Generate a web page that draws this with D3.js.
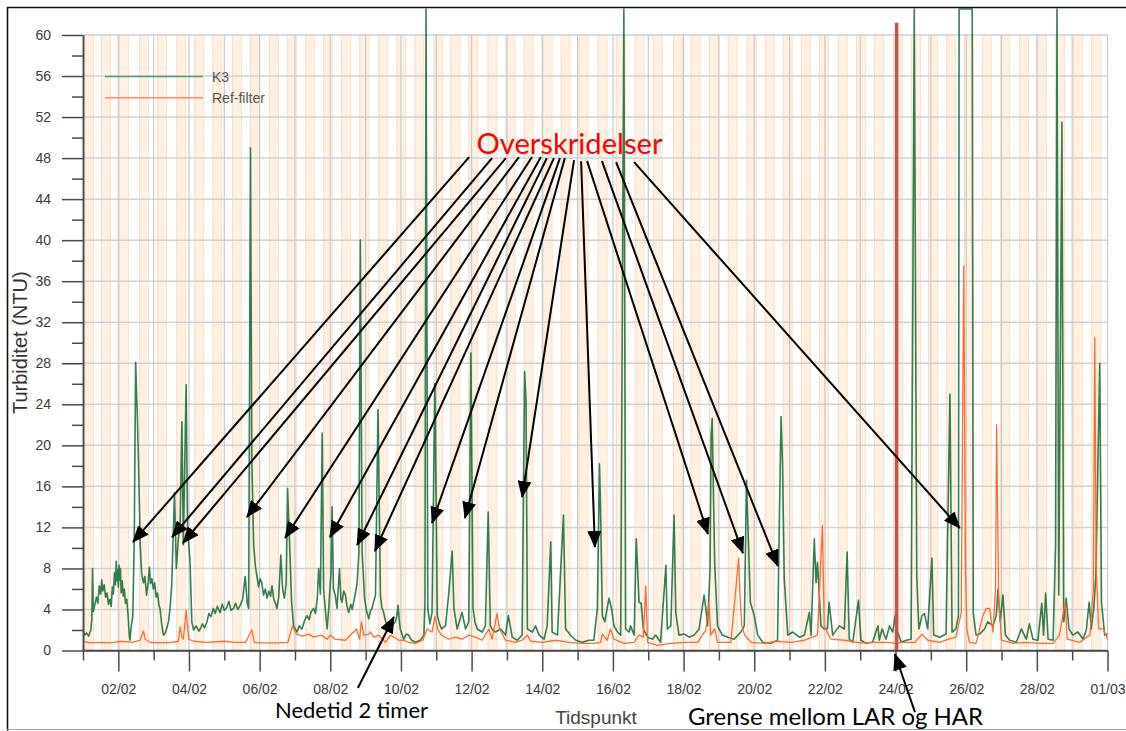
<!DOCTYPE html>
<html>
<head>
<meta charset="utf-8">
<script src="https://cdn.jsdelivr.net/npm/d3@7"></script>
<style>
  html, body { margin: 0; padding: 0; background: #fff; }
  svg { display: block; }
</style>
</head>
<body>
<svg id="chart" width="1126" height="731"></svg>
<script>
// Turbiditet K3 vs. referansefilter, februar (dager regnet fra 01/02 00:00)

// K3: [dag, NTU]
const k3 = [
  [0.00,1.9],[0.04,1.5],[0.10,1.7],[0.16,1.4],[0.22,2.0],[0.25,3.0],[0.27,8.0],[0.29,3.8],[0.33,4.4],[0.38,5.2],
  [0.42,4.6],[0.46,6.3],[0.50,5.5],[0.53,6.9],[0.56,5.8],[0.60,6.4],[0.64,5.2],[0.68,5.6],[0.72,4.5],[0.76,5.0],
  [0.80,4.3],[0.83,6.2],[0.86,5.5],[0.89,7.6],[0.92,6.4],[0.94,8.7],[0.96,6.8],[0.98,7.9],[1.00,6.2],[1.02,8.3],
  [1.04,6.9],[1.06,8.0],[1.08,5.6],[1.11,6.8],[1.14,5.3],[1.17,6.0],[1.20,4.6],[1.24,5.0],[1.28,3.2],[1.31,1.5],
  [1.33,1.0],[1.36,2.2],[1.41,3.4],[1.45,10.6],[1.49,28.1],[1.54,22.6],[1.57,18.4],[1.62,10.3],[1.66,7.5],[1.71,6.6],
  [1.75,7.2],[1.80,5.4],[1.84,6.5],[1.88,8.1],[1.91,6.5],[1.95,7.0],[1.99,6.0],[2.03,6.6],[2.07,5.2],[2.11,5.6],
  [2.15,4.4],[2.18,4.1],[2.22,2.8],[2.26,1.8],[2.28,1.5],[2.33,1.7],[2.38,2.3],[2.42,2.8],[2.46,4.0],[2.51,6.3],
  [2.59,15.4],[2.64,8.0],[2.70,10.9],[2.75,12.5],[2.80,22.3],[2.84,10.3],[2.89,20.0],[2.92,25.9],[2.96,11.9],[3.03,8.6],
  [3.08,2.8],[3.13,2.0],[3.20,2.4],[3.28,1.9],[3.32,2.1],[3.38,2.6],[3.44,2.2],[3.51,2.8],[3.56,3.6],[3.62,3.3],
  [3.69,4.1],[3.74,3.6],[3.80,4.3],[3.88,3.7],[3.94,4.5],[4.00,3.9],[4.07,4.2],[4.13,4.8],[4.19,3.9],[4.26,4.1],
  [4.32,4.6],[4.38,4.0],[4.45,4.4],[4.52,5.0],[4.59,7.2],[4.65,4.6],[4.69,4.1],[4.74,49.0],[4.78,18.4],[4.83,10.3],
  [4.88,8.2],[4.92,7.3],[4.97,6.2],[5.01,7.0],[5.06,6.6],[5.11,5.4],[5.16,6.0],[5.21,5.1],[5.26,5.8],[5.31,5.3],
  [5.35,6.3],[5.40,5.0],[5.45,4.6],[5.49,4.1],[5.54,5.2],[5.60,9.3],[5.65,6.0],[5.70,5.1],[5.75,6.5],[5.79,15.8],
  [5.85,10.3],[5.90,5.0],[5.96,2.4],[6.06,1.8],[6.12,2.4],[6.20,2.1],[6.27,2.9],[6.34,3.4],[6.40,3.0],[6.46,3.8],
  [6.53,4.1],[6.58,3.6],[6.63,5.0],[6.67,8.0],[6.72,5.5],[6.77,21.2],[6.81,6.0],[6.86,4.0],[6.91,2.1],[6.95,3.8],
  [6.98,5.4],[7.02,7.5],[7.05,14.0],[7.09,6.0],[7.14,5.4],[7.19,4.1],[7.26,8.0],[7.30,5.0],[7.33,4.7],[7.38,5.8],
  [7.43,5.4],[7.47,4.4],[7.52,3.7],[7.58,4.5],[7.62,4.0],[7.66,4.7],[7.71,5.6],[7.76,6.6],[7.81,9.6],[7.85,40.0],
  [7.90,9.6],[7.97,5.1],[8.03,3.8],[8.09,3.1],[8.14,3.9],[8.18,4.1],[8.23,4.8],[8.28,5.4],[8.35,23.5],[8.42,5.4],
  [8.46,4.2],[8.51,3.7],[8.56,2.9],[8.61,2.4],[8.66,2.7],[8.70,2.1],[8.77,2.5],[8.84,2.8],[8.88,3.3],[8.92,4.4],
  [8.95,3.0],[8.98,2.1],[9.08,1.1],[9.15,1.6],[9.22,1.5],[9.30,1.0],[9.41,0.8],[9.55,1.0],[9.65,1.5],[9.68,4.7],
  [9.71,80],[9.76,4.1],[9.82,2.6],[9.88,3.7],[9.96,26.0],[10.03,3.4],[10.09,2.6],[10.15,2.1],[10.26,2.4],[10.35,5.4],
  [10.45,9.7],[10.50,4.1],[10.59,2.1],[10.66,2.9],[10.73,3.7],[10.83,2.1],[10.92,2.8],[10.98,29.0],[11.04,4.1],[11.10,2.7],
  [11.16,2.1],[11.30,1.8],[11.39,2.4],[11.47,13.5],[11.53,2.4],[11.60,2.0],[11.68,1.8],[11.82,2.1],[11.96,1.5],[12.04,3.4],
  [12.15,1.3],[12.29,1.0],[12.43,1.5],[12.50,27.2],[12.54,24.4],[12.58,2.1],[12.72,1.8],[12.81,2.4],[12.91,1.5],[13.05,1.1],
  [13.14,2.4],[13.24,10.6],[13.28,1.8],[13.43,1.5],[13.60,13.2],[13.66,2.1],[13.80,1.5],[13.95,1.0],[14.13,0.8],[14.32,1.0],
  [14.46,1.0],[14.56,4.1],[14.62,18.2],[14.65,13.8],[14.70,3.4],[14.77,2.8],[14.89,5.1],[14.96,4.1],[15.03,2.4],[15.13,1.8],
  [15.22,1.5],[15.31,80],[15.36,2.1],[15.46,1.8],[15.50,2.4],[15.60,1.5],[15.66,10.9],[15.69,8.6],[15.74,4.7],[15.80,4.6],
  [15.86,2.1],[15.98,1.3],[16.12,1.1],[16.21,1.5],[16.35,0.8],[16.50,8.3],[16.54,2.1],[16.64,2.4],[16.73,13.2],[16.78,3.7],
  [16.87,1.5],[17.02,1.6],[17.16,1.3],[17.30,1.5],[17.44,2.1],[17.58,5.4],[17.63,4.1],[17.68,2.4],[17.75,8.0],[17.78,21.0],
  [17.81,22.6],[17.88,8.6],[17.96,2.4],[18.10,1.5],[18.25,1.3],[18.43,1.1],[18.62,1.8],[18.72,2.4],[18.78,16.6],[18.89,4.7],
  [19.00,3.4],[19.10,1.5],[19.24,0.8],[19.47,0.7],[19.66,1.0],[19.71,12.5],[19.76,22.8],[19.80,18.4],[19.85,7.0],[19.95,1.5],
  [20.09,1.8],[20.28,1.3],[20.42,1.5],[20.56,3.7],[20.61,1.5],[20.70,10.9],[20.75,6.6],[20.79,8.6],[20.89,2.4],[20.98,2.1],
  [21.07,2.1],[21.12,4.7],[21.22,1.5],[21.41,2.4],[21.55,2.1],[21.63,9.6],[21.69,1.1],[21.79,0.8],[21.95,4.9],[22.02,1.0],
  [22.17,0.7],[22.35,0.8],[22.50,2.4],[22.54,1.0],[22.62,2.1],[22.73,1.1],[22.83,2.4],[22.92,1.8],[22.99,3.4],[23.03,2.1],
  [23.16,0.8],[23.30,1.0],[23.44,1.1],[23.53,80],[23.60,7.3],[23.66,2.1],[23.75,3.4],[23.82,3.6],[23.91,2.1],[24.03,9.0],
  [24.08,1.5],[24.25,1.3],[24.43,1.6],[24.54,25.0],[24.60,1.8],[24.71,2.1],[24.78,3.4],[24.80,80],[25.17,80],[25.20,3.7],
  [25.28,1.5],[25.38,1.6],[25.52,2.1],[25.61,2.8],[25.76,2.4],[25.85,3.4],[25.90,6.0],[25.96,2.8],[26.04,5.4],[26.11,1.5],
  [26.23,1.0],[26.42,0.8],[26.56,2.1],[26.70,1.1],[26.79,2.6],[26.89,1.1],[27.03,1.0],[27.14,4.6],[27.19,1.5],[27.25,5.6],
  [27.32,1.1],[27.46,1.0],[27.53,10.3],[27.57,80],[27.62,5.4],[27.71,51.5],[27.76,2.8],[27.83,5.1],[27.91,2.1],[28.02,1.5],
  [28.16,1.8],[28.31,1.1],[28.40,2.0],[28.48,4.7],[28.54,2.1],[28.61,4.1],[28.67,7.2],[28.78,28.0],[28.83,4.7],[28.92,1.5],
  [29.00,1.6]
];

// Ref-filter: [dag, NTU]
const refFilter = [
  [0.00,0.9],[0.20,0.75],[0.50,0.8],[0.80,0.75],[1.10,0.9],[1.40,0.8],[1.62,1.0],[1.71,1.9],[1.76,1.1],[1.90,0.8],
  [2.20,0.75],[2.50,0.8],[2.70,0.9],[2.75,2.3],[2.80,1.3],[2.84,1.1],[2.92,3.9],[2.99,1.1],[3.13,0.9],[3.50,0.8],
  [4.00,0.9],[4.30,0.8],[4.60,0.8],[4.78,2.0],[4.85,0.8],[5.06,0.75],[5.50,0.75],[5.80,0.8],[5.93,2.4],[6.04,1.6],
  [6.20,1.4],[6.40,1.6],[6.53,1.3],[6.75,1.5],[6.91,1.1],[7.00,1.5],[7.14,1.1],[7.43,1.0],[7.66,1.8],[7.74,2.1],
  [7.83,1.1],[7.88,2.8],[7.95,1.5],[8.09,1.6],[8.14,1.8],[8.23,1.3],[8.37,1.5],[8.56,0.8],[8.70,1.5],[8.80,1.3],
  [8.94,1.0],[9.08,1.0],[9.22,0.8],[9.41,0.7],[9.62,1.0],[9.74,2.1],[9.88,1.8],[9.96,3.3],[10.05,2.0],[10.15,1.5],
  [10.35,1.1],[10.54,1.3],[10.73,1.1],[10.92,1.5],[11.11,1.3],[11.30,1.0],[11.49,2.1],[11.58,1.1],[11.72,3.6],[11.79,2.1],
  [11.96,1.0],[12.24,0.8],[12.43,1.0],[12.58,1.5],[12.67,0.9],[13.00,0.8],[13.38,1.0],[13.76,0.8],[14.13,0.7],[14.47,0.7],
  [14.65,0.8],[14.70,1.6],[14.84,1.0],[14.93,2.1],[15.03,1.1],[15.32,0.7],[15.60,0.8],[15.74,1.5],[15.86,1.3],[15.93,6.3],
  [15.98,0.8],[16.26,0.5],[16.64,0.7],[17.02,0.8],[17.40,0.8],[17.63,2.0],[17.72,4.7],[17.77,1.5],[17.88,2.1],[17.96,0.8],
  [18.34,0.8],[18.56,9.0],[18.60,5.1],[18.65,2.4],[18.73,1.5],[18.91,0.8],[19.28,0.7],[19.66,0.9],[20.04,0.8],[20.42,1.0],
  [20.79,1.5],[20.93,12.2],[20.98,2.4],[21.17,1.1],[21.55,1.0],[22.00,0.75],[22.40,0.8],[22.73,0.8],[23.03,0.7],[23.16,0.8],
  [23.55,0.8],[23.75,1.6],[23.91,1.0],[24.25,0.8],[24.50,1.1],[24.71,1.3],[24.86,3.7],[24.93,37.5],[24.98,8.0],[25.02,2.1],
  [25.09,0.8],[25.28,0.7],[25.47,3.4],[25.57,4.1],[25.66,4.1],[25.76,1.8],[25.83,6.0],[25.86,22.0],[25.92,5.0],[26.00,1.0],
  [26.32,0.7],[26.70,0.8],[27.08,0.7],[27.46,0.7],[27.64,1.5],[27.80,4.7],[27.86,1.1],[28.21,0.8],[28.50,1.5],[28.60,6.0],
  [28.64,30.5],[28.68,8.0],[28.75,2.1],[28.88,2.1],[29.00,1.1]
];

// Start of each shaded period (dag) and its length
const periodStarts = [
  0.03,0.51,1.02,1.59,2.10,2.64,3.15,3.66,4.22,4.73,5.27,5.78,6.29,6.80,7.31,7.82,8.36,8.87,9.38,9.92,
  10.40,10.91,11.45,11.96,12.47,13.01,13.52,14.03,14.57,15.08,15.62,16.13,16.70,17.20,17.72,18.25,18.79,19.30,19.81,20.32,
  20.83,21.37,21.88,22.39,22.93,23.44,23.92,24.43,24.94,25.45,25.96,26.50,27.01,27.52,28.03,28.54
];
const periodLength = 0.28;

// Boundary between LAR and HAR
const boundaryDay = 23.03;
const boundaryTop = 61.2;

// Axis labels
const xTickDays = [1,3,5,7,9,11,13,15,17,19,21,23,25,27,29];
const xTickLabels = ["02/02","04/02","06/02","08/02","10/02","12/02","14/02","16/02","18/02","20/02","22/02","24/02","26/02","28/02","01/03"];
const yTickValues = [0,4,8,12,16,20,24,28,32,36,40,44,48,52,56,60];

// Arrows: [start dag, start NTU, tip dag, tip NTU]
const exceedArrows = [
  [10.93,48.1, 1.415,10.58],
  [11.58,48.0, 2.52,11.06],
  [11.97,48.0, 2.83,10.48],
  [12.34,48.1, 4.64,13.01],
  [12.71,48.1, 5.72,10.97],
  [12.96,48.1, 6.99,11.06],
  [13.13,48.0, 7.76,10.28],
  [13.33,48.0, 8.26,9.70],
  [13.50,48.0, 9.88,12.43],
  [13.64,48.0, 10.81,12.92],
  [13.90,47.8, 12.43,14.96],
  [14.10,47.7, 14.49,10.09],
  [14.27,47.7, 17.69,11.36],
  [14.69,47.7, 18.68,9.50],
  [15.09,47.6, 19.67,8.24],
  [15.60,47.6, 24.82,11.94]
];
const downtimeArrow = [7.78,-3.66, 8.80,3.27];
const boundaryArrow = [23.55,-6.0, 22.98,-0.34];

const svg = d3.select("#chart");
const W = 1126, H = 731;

const x = d3.scaleLinear().domain([0, 29]).range([83, 1107.5]);
const y = d3.scaleLinear().domain([0, 60]).range([650.5, 35]);
const yCeil = y.invert(9); // traces are held at the top edge of the frame

svg.append("rect").attr("width", W).attr("height", H).attr("fill", "#fff");

// Shaded periods
const bands = svg.append("g");
bands.selectAll("rect").data(periodStarts).join("rect")
  .attr("x", d => x(d))
  .attr("y", y(60) - 1)
  .attr("width", x(periodLength) - x(0))
  .attr("height", y(0) - y(60) + 1)
  .attr("fill", "#fef0e3");
bands.selectAll("line.l").data(periodStarts).join("line").attr("class", "l")
  .attr("x1", d => x(d) + 0.5).attr("x2", d => x(d) + 0.5)
  .attr("y1", y(60) - 1).attr("y2", y(0))
  .attr("stroke", "#fcdcbd").attr("stroke-width", 1);
bands.selectAll("line.r").data(periodStarts).join("line").attr("class", "r")
  .attr("x1", d => x(d + periodLength) - 0.5).attr("x2", d => x(d + periodLength) - 0.5)
  .attr("y1", y(60) - 1).attr("y2", y(0))
  .attr("stroke", "#fde2c8").attr("stroke-width", 1);

// Grid
const grid = svg.append("g");
grid.selectAll("line.h").data(yTickValues.filter(v => v > 0)).join("line").attr("class", "h")
  .attr("x1", x(0)).attr("x2", x(29))
  .attr("y1", d => y(d)).attr("y2", d => y(d))
  .attr("stroke", "#d2d2d2").attr("stroke-width", 1.5);
grid.selectAll("line.v").data(d3.range(1, 30)).join("line").attr("class", "v")
  .attr("x1", d => x(d)).attr("x2", d => x(d))
  .attr("y1", y(60)).attr("y2", y(0))
  .attr("stroke", "#c9c9c9").attr("stroke-width", 1.2);

// Series
const line = d3.line()
  .x(d => x(d[0]))
  .y(d => y(Math.min(d[1], yCeil)));

svg.append("path").datum(k3)
  .attr("d", line)
  .attr("fill", "none")
  .attr("stroke", "#0f6831")
  .attr("stroke-opacity", 0.85)
  .attr("stroke-width", 1.6)
  .attr("stroke-linejoin", "round");

svg.append("path").datum(refFilter)
  .attr("d", line)
  .attr("fill", "none")
  .attr("stroke", "#ff6a2b")
  .attr("stroke-width", 1.3)
  .attr("stroke-linejoin", "round");

// LAR/HAR boundary
svg.append("line")
  .attr("x1", x(boundaryDay)).attr("x2", x(boundaryDay))
  .attr("y1", y(0)).attr("y2", y(boundaryTop))
  .attr("stroke", "#c4524f").attr("stroke-width", 3.5);

// Axes
const axisColor = "#4a4a4a";
const tickFont = "'Liberation Sans', Arial, sans-serif";

const yAxis = svg.append("g").attr("transform", `translate(${x(0)},0)`)
  .call(d3.axisLeft(y).tickValues(yTickValues).tickSize(21).tickPadding(11).tickSizeOuter(0));
const yMinor = svg.append("g").attr("transform", `translate(${x(0)},0)`)
  .call(d3.axisLeft(y).tickValues(d3.range(2, 60, 4)).tickSize(11).tickFormat("").tickSizeOuter(0));

const xAxis = svg.append("g").attr("transform", `translate(0,${y(0)})`)
  .call(d3.axisBottom(x).tickValues(xTickDays).tickSize(21).tickPadding(13)
    .tickFormat((d, i) => xTickLabels[i]).tickSizeOuter(0));
const xMinor = svg.append("g").attr("transform", `translate(0,${y(0)})`)
  .call(d3.axisBottom(x).tickValues(d3.range(0, 29, 2)).tickSize(10).tickFormat("").tickSizeOuter(0));

[yAxis, yMinor, xAxis, xMinor].forEach(g => {
  g.select(".domain").attr("stroke", axisColor).attr("stroke-width", 1.5);
  g.selectAll(".tick line").attr("stroke", axisColor).attr("stroke-width", 1.5);
  g.selectAll(".tick text").attr("fill", "#3a3a3a").style("font-family", tickFont).style("font-size", "14px");
});
xAxis.select(".domain").attr("d", `M${x(0)},0H${x(29)}`);

// Axis titles
svg.append("text")
  .attr("transform", `translate(27,${(y(0) + y(60)) / 2}) rotate(-90)`)
  .attr("text-anchor", "middle")
  .style("font-family", tickFont).style("font-size", "20px").attr("fill", "#333")
  .text("Turbiditet (NTU)");
svg.append("text")
  .attr("x", 596).attr("y", 724)
  .attr("text-anchor", "middle")
  .style("font-family", tickFont).style("font-size", "19px").attr("fill", "#444")
  .text("Tidspunkt");

// Legend
const legend = svg.append("g");
const legendItems = [
  { name: "K3", color: "#4f9a72", yPos: 76.5 },
  { name: "Ref-filter", color: "#ff8d5c", yPos: 97.7 }
];
legendItems.forEach(it => {
  legend.append("line").attr("x1", 105).attr("x2", 203).attr("y1", it.yPos).attr("y2", it.yPos)
    .attr("stroke", it.color).attr("stroke-width", 1.6);
  legend.append("text").attr("x", 212).attr("y", it.yPos + 5)
    .style("font-family", tickFont).style("font-size", "14px").attr("fill", "#555")
    .text(it.name);
});

// Annotations
const defs = svg.append("defs");
defs.append("marker").attr("id", "head")
  .attr("markerUnits", "userSpaceOnUse")
  .attr("markerWidth", 17).attr("markerHeight", 14)
  .attr("refX", 16).attr("refY", 7)
  .attr("orient", "auto")
  .append("path").attr("d", "M0,0 L17,7 L0,14 Z").attr("fill", "#000");

const ann = svg.append("g");
const allArrows = exceedArrows.concat([downtimeArrow, boundaryArrow]);
ann.selectAll("line").data(allArrows).join("line")
  .attr("x1", d => x(d[0])).attr("y1", d => y(d[1]))
  .attr("x2", d => x(d[2])).attr("y2", d => y(d[3]))
  .attr("stroke", "#000").attr("stroke-width", 2)
  .attr("marker-end", "url(#head)");

const annFont = "Lato, 'Open Sans', sans-serif";
ann.append("text").attr("x", 476.5).attr("y", 153.5)
  .attr("textLength", 186).attr("lengthAdjust", "spacingAndGlyphs")
  .style("font-family", annFont).style("font-size", "29px").attr("fill", "#ff0000")
  .text("Overskridelser");
ann.append("text").attr("x", 275).attr("y", 717.5)
  .attr("textLength", 153).attr("lengthAdjust", "spacingAndGlyphs")
  .style("font-family", annFont).style("font-size", "21px").attr("fill", "#000")
  .text("Nedetid 2 timer");
ann.append("text").attr("x", 688).attr("y", 724.5)
  .attr("textLength", 295).attr("lengthAdjust", "spacingAndGlyphs")
  .style("font-family", annFont).style("font-size", "22.5px").attr("fill", "#000")
  .text("Grense mellom LAR og HAR");

// Frame
svg.append("line").attr("x1", 7).attr("x2", W).attr("y1", 7.5).attr("y2", 7.5)
  .attr("stroke", "#111").attr("stroke-width", 1.6);
svg.append("line").attr("x1", 7.5).attr("x2", 7.5).attr("y1", 7).attr("y2", H)
  .attr("stroke", "#111").attr("stroke-width", 1.6);
svg.append("line").attr("x1", 7).attr("x2", W).attr("y1", 729.5).attr("y2", 729.5)
  .attr("stroke", "#a0a0a0").attr("stroke-width", 1);
</script>
</body>
</html>
